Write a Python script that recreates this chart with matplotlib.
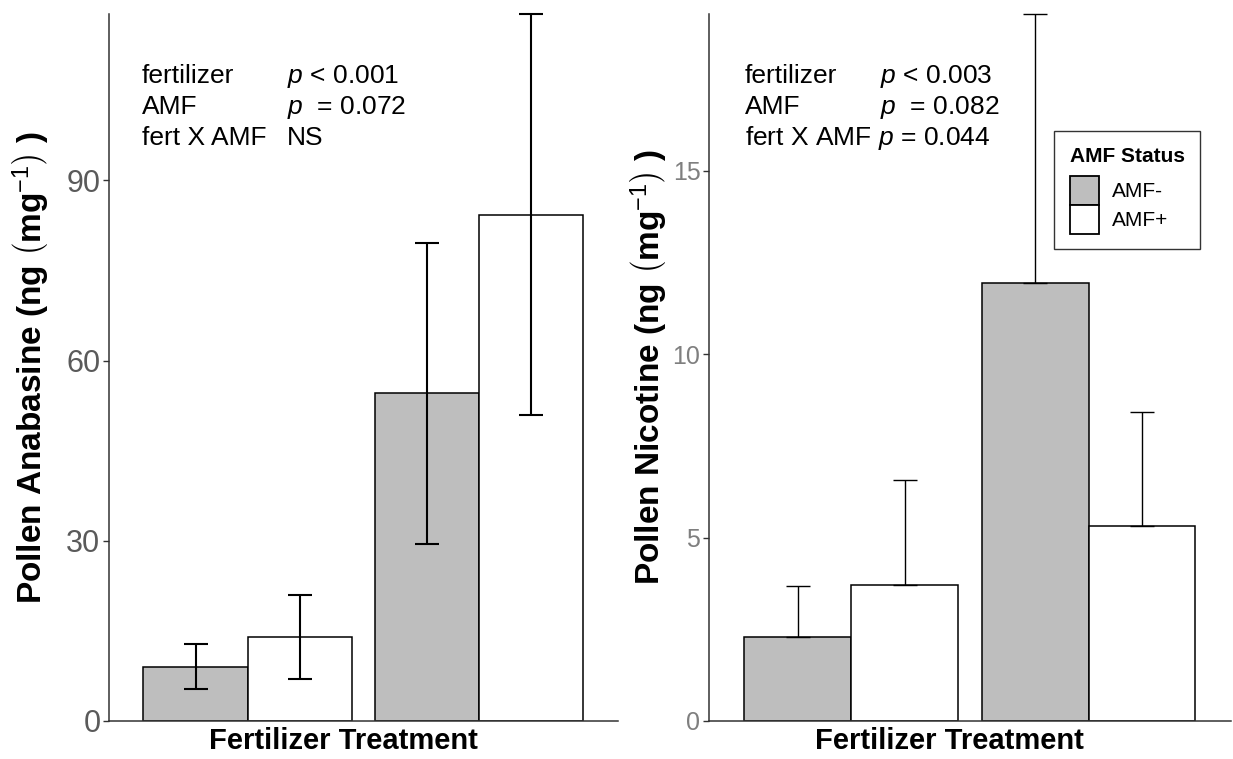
import matplotlib
matplotlib.use("Agg")
import matplotlib.pyplot as plt
from matplotlib.patches import Patch
import numpy as np

plt.rcParams['font.family'] = ['Liberation Sans', 'DejaVu Sans']
plt.rcParams['mathtext.fontset'] = 'custom'
plt.rcParams['mathtext.rm'] = 'Liberation Sans'
plt.rcParams['mathtext.it'] = 'Liberation Sans:italic'
plt.rcParams['mathtext.bf'] = 'Liberation Sans:bold'

# data
groups = ['low', 'high']
status = ['AMF-', 'AMF+']
colors = ['#BEBEBE', 'white']

anab_mean = {'AMF-': [9.05, 54.6], 'AMF+': [13.9, 84.3]}
anab_low = {'AMF-': [5.3, 29.5], 'AMF+': [6.95, 51.0]}
anab_high = {'AMF-': [12.8, 79.6], 'AMF+': [20.9, 117.7]}

nic_mean = {'AMF-': [2.28, 11.93], 'AMF+': [3.71, 5.31]}
nic_high = {'AMF-': [3.69, 19.27], 'AMF+': [6.57, 8.41]}

anab_ticks = [0, 30, 60, 90]
nic_ticks = [0, 5, 10, 15]

anab_stats = [('fertilizer', r'$p$ < 0.001'),
              ('AMF', r'$p$  = 0.072'),
              ('fert X AMF', 'NS')]
nic_stats = [('fertilizer', r'$p$ < 0.003'),
             ('AMF', r'$p$  = 0.082'),
             (r'fert X AMF $p$ = 0.044', None)]

fig = plt.figure(figsize=(12.33, 7.59), dpi=100)
ax1 = fig.add_axes([0.0882, 0.0501, 0.4129, 0.9315])
ax2 = fig.add_axes([0.5748, 0.0501, 0.4236, 0.9315])

x = np.arange(1, len(groups) + 1)
w = 0.45


def style(ax, ticks, ylim, tick_size, tick_color):
    for s in ['top', 'right']:
        ax.spines[s].set_visible(False)
    for s in ['left', 'bottom']:
        ax.spines[s].set_color('#333333')
        ax.spines[s].set_linewidth(1.1)
    ax.set_xlim(0.4, 2.6)
    ax.set_ylim(ylim)
    ax.set_xticks([])
    ax.set_yticks(ticks)
    ax.tick_params(axis='y', length=4, width=1, color='#333333',
                   labelsize=tick_size, labelcolor=tick_color, pad=2)
    ax.set_xlabel('Fertilizer Treatment', fontsize=21, fontweight='bold')
    ax.xaxis.set_label_coords(0.46, -0.008, transform=ax.transAxes)
    ax.xaxis.label.set_va('top')


def ylab(name):
    return (r'$\mathbf{Pollen\ ' + name + r'\ (ng\ }'
            r'\left(\mathbf{mg}^{-1}\right)\mathbf{\ )}$')


# left panel: anabasine
for i, st in enumerate(status):
    pos = x - w / 2 + i * w
    m = np.array(anab_mean[st])
    lo = m - np.array(anab_low[st])
    hi = np.array(anab_high[st]) - m
    ax1.bar(pos, m, width=w, color=colors[i], edgecolor='black',
            linewidth=1.1, zorder=2)
    ax1.errorbar(pos, m, yerr=[lo, hi], fmt='none', ecolor='black',
                 elinewidth=1.5, capsize=8.3, capthick=1.5, zorder=3,
                 clip_on=False)
style(ax1, anab_ticks, (0, 117.7), 22, '#5A5A5A')
ax1.set_ylabel(ylab('Anabasine'), fontsize=24, labelpad=10)

# right panel: nicotine (upper bars only)
for i, st in enumerate(status):
    pos = x - w / 2 + i * w
    m = np.array(nic_mean[st])
    hi = np.array(nic_high[st]) - m
    ax2.bar(pos, m, width=w, color=colors[i], edgecolor='black',
            linewidth=1.1, zorder=2)
    ax2.errorbar(pos, m, yerr=[np.zeros_like(m), hi], fmt='none',
                 ecolor='black', elinewidth=1.0, capsize=8.3, capthick=1.0,
                 zorder=3, clip_on=False)
style(ax2, nic_ticks, (0, 19.27), 18, '#7F7F7F')
ax2.set_ylabel(ylab('Nicotine'), fontsize=24, labelpad=2)

# statistics text
rows_y = [0.902, 0.859, 0.814]
for (a, b), yy in zip(anab_stats, rows_y):
    ax1.text(0.065, yy, a, transform=ax1.transAxes, fontsize=19, va='baseline')
    ax1.text(0.35, yy, b, transform=ax1.transAxes, fontsize=19, va='baseline')
for (a, b), yy in zip(nic_stats, rows_y):
    ax2.text(0.0695, yy, a, transform=ax2.transAxes, fontsize=19, va='baseline')
    if b:
        ax2.text(0.328, yy, b, transform=ax2.transAxes, fontsize=19,
                 va='baseline')

handles = [Patch(facecolor=c, edgecolor='black', linewidth=1.3, label=s)
           for c, s in zip(colors, status)]
leg = ax2.legend(handles=handles, title='AMF Status', loc='upper left',
                 bbox_to_anchor=(0.855, 0.827), bbox_transform=fig.transFigure,
                 borderaxespad=0, fontsize=15, title_fontsize=15,
                 handlelength=1.4, handleheight=1.77, handletextpad=0.6,
                 labelspacing=0.0, borderpad=0.75, fancybox=False,
                 framealpha=1, edgecolor='#333333', alignment='left')
leg.get_title().set_fontweight('bold')
leg.get_frame().set_linewidth(1.0)
leg._legend_box.sep = 7  # gap between title and keys

fig.savefig('out.png', dpi=100)
